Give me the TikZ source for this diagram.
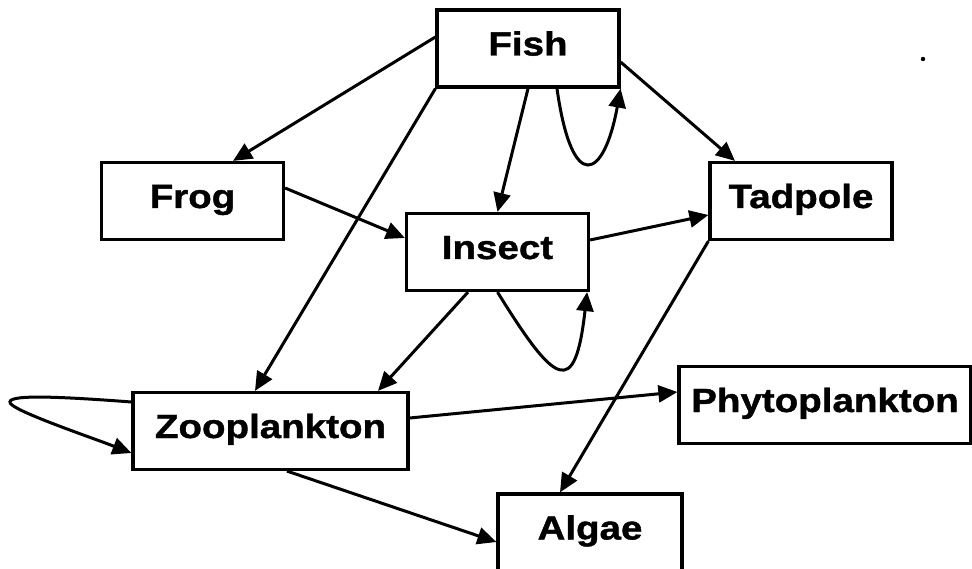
\documentclass[tikz,border=0pt]{standalone}
\usepackage{fontspec}
\usepackage{tikz}
\usetikzlibrary{arrows.meta}
\newfontfamily\speciesfont{Liberation Sans}[FakeStretch=1.15, BoldFeatures={FakeBold=1.2}]

\tikzset{
  species/.style={draw, line width=3.2pt, inner sep=0pt, minimum width=182pt, minimum height=77pt,
    text height=24pt, text depth=10pt, font=\speciesfont\bfseries\fontsize{33.5}{40}\selectfont},
  eats/.style={-{Triangle[length=19pt,width=17pt]}, line width=3pt}
}

\begin{document}
\begin{tikzpicture}[x=1pt, y=-1pt]
        \useasboundingbox (0,0) rectangle (972,569);
        % species
        \node[species] (fish) at (528,48.5) {Fish};
        \node[species] (frog) at (192.5,201) {Frog};
        \node[species] (insect) at (497.5,252) {Insect};
        \node[species] (tadpole) at (801,201) {Tadpole};
        \node[species, minimum width=275pt] (zoo) at (270.5,431) {Zooplankton};
        \node[species, minimum width=292pt] (phyto) at (825,405) {Phytoplankton};
        \node[species, minimum width=184pt] (algae) at (590,532.5) {Algae};
        % links
        \draw[eats] ([yshift=11.5pt]fish.west) -- ([xshift=40.5pt]frog.north);
        \draw[eats] (fish.south west) -- ([xshift=-15.5pt]zoo.north);
        \draw[eats] (fish.south) -- (insect.north);
        \draw[eats] ([xshift=29pt]fish.south) .. controls (572,195) and (604,180) .. (fish.south east);
        \draw[eats] ([yshift=-13.5pt]fish.east) -- ([xshift=-66pt]tadpole.north);
        \draw[eats] ([yshift=13pt]frog.east) -- ([yshift=14pt]insect.west);
        \draw[eats] ([yshift=12pt]insect.east) -- ([yshift=-14pt]tadpole.west);
        \draw[eats] (insect.south) .. controls (555,385) and (575,400) .. ([xshift=-3pt]insect.south east);
        \draw[eats] ([xshift=-29.5pt]insect.south) -- ([xshift=107.5pt]zoo.north);
        \draw[eats] ([yshift=29pt]zoo.west) .. controls (40,395) and (0,395) .. (12,405)
            .. controls (25,415) and (90,437) .. ([yshift=-22pt]zoo.west);
        \draw[eats] ([yshift=13pt]zoo.east) -- ([yshift=13pt]phyto.west);
        \draw[eats] ([xshift=16.5pt]zoo.south) -- ([yshift=-9.5pt]algae.west);
        \draw[eats] (tadpole.south west) -- ([xshift=-30pt]algae.north);
        \fill (923,59) circle (2.2pt);
    \end{tikzpicture}
\end{document}
